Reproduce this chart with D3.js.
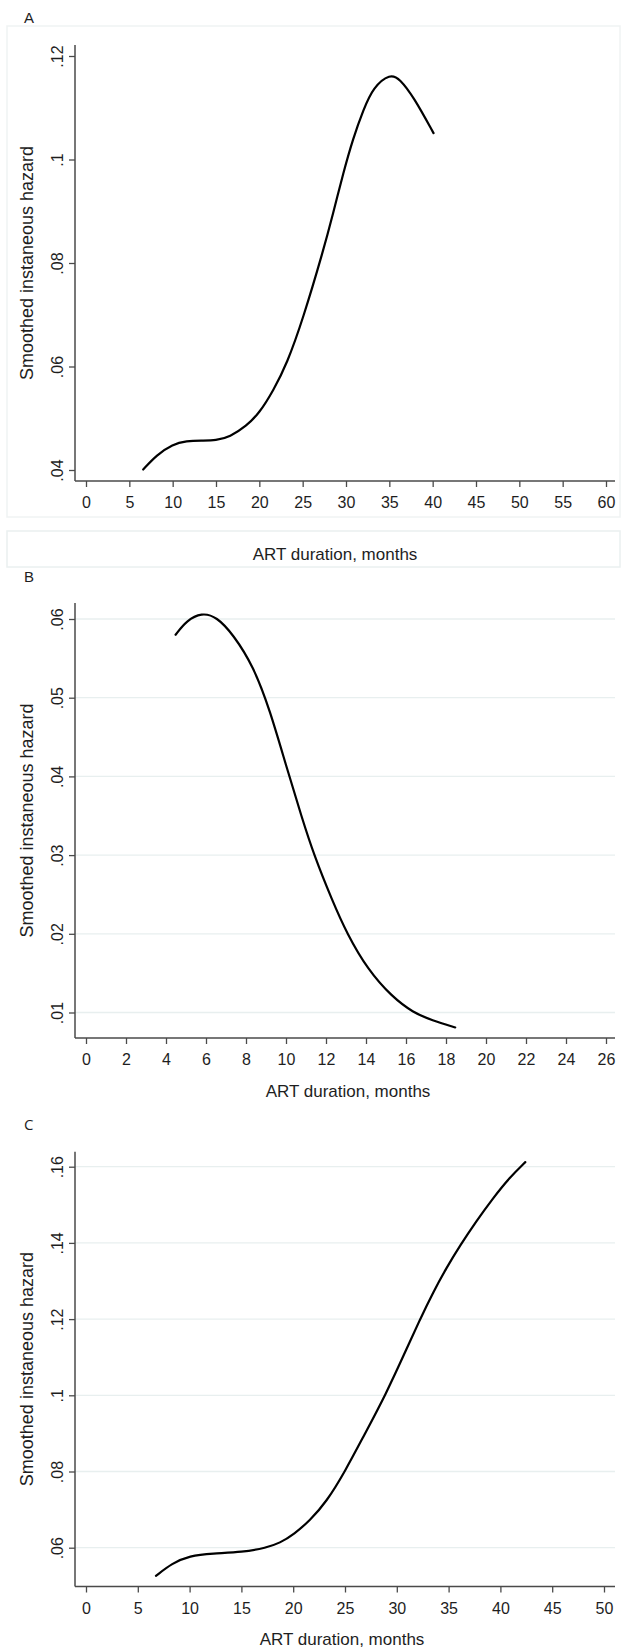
<!DOCTYPE html>
<html lang="en">

<head>
  <meta charset="utf-8" />
  <style>
    body {
      margin: 0;
      background: #fff;
    }

    #chart text {
      font-family: "Liberation Sans", Arial, sans-serif;
      fill: #1e1e1e;
    }
  </style>
</head>

<body>
  <div id="chart"></div>

  <script src="https://cdnjs.cloudflare.com/ajax/libs/d3/7.8.5/d3.min.js"></script>
  <script>
    // panel A
    const monthsA = [6.6, 8.15, 10, 11.6, 13.3, 15, 16.6, 18.5, 20, 21.6, 23.2, 25, 27.4, 28.5, 29.7, 30.8, 32, 33.15, 35.1, 36.2, 37.8, 40.1];
    const hazardA = [.0401, .0429, .0450, .0456, .0457, .0457, .0464, .0485, .0510, .0553, .0606, .0690, .0825, .0895, .0975, .1040, .1096, .1140, .1166, .1156, .1121, .1051];
    const xTicksA = d3.range(0, 61, 5);
    const yTicksA = [.04, .06, .08, .1, .12];

    // panel B
    const monthsB = [4.48, 5.03, 5.78, 6.53, 7.37, 8.37, 9.2, 10.0, 10.8, 11.4, 12.3, 13.05, 14.1, 15.3, 16.35, 17.3, 18.46];
    const hazardB = [.0580, .0598, .0608, .0603, .0580, .0540, .0484, .0414, .0347, .0300, .0243, .0200, .0154, .0120, .0100, .0090, .0081];
    const xTicksB = d3.range(0, 27, 2);
    const yTicksB = [.01, .02, .03, .04, .05, .06];

    // panel C
    const monthsC = [6.75, 8.3, 10.0, 12.2, 15.1, 17.4, 18.7, 20.1, 21.6, 23.2, 25.0, 26.8, 28.9, 31.0, 32.2, 33.5, 34.8, 36.1, 37.7, 39.3, 40.9, 42.4];
    const hazardC = [.0526, .0559, .0579, .0585, .0588, .0600, .0612, .0636, .0671, .0720, .0800, .0893, .1000, .1125, .1197, .1270, .1335, .1393, .1458, .1518, .1572, .1612];
    const xTicksC = d3.range(0, 51, 5);
    const yTicksC = [.06, .08, .1, .12, .14, .16];

    const xTitle = "ART duration, months";
    const yTitle = "Smoothed instaneous hazard";

    const width = 627;
    const height = 1650;

    const svg = d3.select("#chart")
      .append("svg")
      .attr("width", width)
      .attr("height", height);

    // faint frame that panel A carries in the original
    svg.append("rect")
      .attr("x", 7).attr("y", 26).attr("width", 613).attr("height", 491)
      .attr("fill", "none").attr("stroke", "#f0f3f3").attr("stroke-width", 1.5);
    svg.append("rect")
      .attr("x", 7).attr("y", 531).attr("width", 613).attr("height", 36)
      .attr("fill", "none").attr("stroke", "#eaf0f0").attr("stroke-width", 1.5);

    const panels = [
      {
        label: "A", labelY: 23, labelFont: "Liberation Sans",
        months: monthsA, hazard: hazardA, xTicks: xTicksA, yTicks: yTicksA,
        xDomain: [0, 60], xRange: [86, 606],
        yDomain: [.04, .12], yRange: [470, 56],
        top: 45, bottom: 481, grid: false,
        xTitleX: 335, xTitleY: 560
      },
      {
        label: "B", labelY: 582, labelFont: "Liberation Sans",
        months: monthsB, hazard: hazardB, xTicks: xTicksB, yTicks: yTicksB,
        xDomain: [0, 26], xRange: [86, 606],
        yDomain: [.01, .06], yRange: [1012.5, 619],
        top: 603, bottom: 1038, grid: true,
        xTitleX: 348, xTitleY: 1097
      },
      {
        label: "C", labelY: 1130, labelFont: "Open Sans",
        months: monthsC, hazard: hazardC, xTicks: xTicksC, yTicks: yTicksC,
        xDomain: [0, 50], xRange: [86, 604],
        yDomain: [.06, .16], yRange: [1547.7, 1166.7],
        top: 1151.7, bottom: 1586.5, grid: true,
        xTitleX: 342, xTitleY: 1645
      }
    ];

    const axisX0 = 75;
    const axisX1 = 615;
    const fmt = d => String(d).replace(/^0/, "");

    panels.forEach(p => {
      const x = d3.scaleLinear().domain(p.xDomain).range(p.xRange);
      const y = d3.scaleLinear().domain(p.yDomain).range(p.yRange);
      const g = svg.append("g");

      g.append("text")
        .attr("x", 24)
        .attr("y", p.labelY)
        .style("font-family", p.labelFont)
        .style("font-size", "15px")
        .text(p.label);

      if (p.grid) {
        g.selectAll("line.grid")
          .data(p.yTicks)
          .join("line")
          .attr("class", "grid")
          .attr("x1", axisX0)
          .attr("x2", axisX1)
          .attr("y1", d => y(d))
          .attr("y2", d => y(d))
          .attr("stroke", "#e8efef")
          .attr("stroke-width", 1.3);
      }

      // y axis
      const yAxis = g.append("g")
        .attr("transform", `translate(${axisX0},0)`)
        .call(d3.axisLeft(y).tickValues(p.yTicks).tickSize(6).tickFormat(fmt));
      yAxis.select(".domain").remove();
      yAxis.selectAll(".tick line").attr("stroke", "#4a4a4a").attr("stroke-width", 1.3);
      yAxis.selectAll(".tick text")
        .attr("transform", "rotate(-90)")
        .attr("x", 0)
        .attr("y", -12)
        .attr("dy", 0)
        .attr("text-anchor", "middle")
        .style("font-size", "16px");
      g.append("line")
        .attr("x1", axisX0).attr("x2", axisX0)
        .attr("y1", p.top).attr("y2", p.bottom)
        .attr("stroke", "#4a4a4a").attr("stroke-width", 1.5);

      // x axis
      const xAxis = g.append("g")
        .attr("transform", `translate(0,${p.bottom})`)
        .call(d3.axisBottom(x).tickValues(p.xTicks).tickSize(6));
      xAxis.select(".domain").remove();
      xAxis.selectAll(".tick line").attr("stroke", "#4a4a4a").attr("stroke-width", 1.3);
      xAxis.selectAll(".tick text")
        .attr("y", 27)
        .attr("dy", 0)
        .style("font-size", "16px");
      g.append("line")
        .attr("x1", axisX0).attr("x2", axisX1)
        .attr("y1", p.bottom).attr("y2", p.bottom)
        .attr("stroke", "#4a4a4a").attr("stroke-width", 1.5);

      // titles
      g.append("text")
        .attr("x", p.xTitleX)
        .attr("y", p.xTitleY)
        .attr("text-anchor", "middle")
        .style("font-size", "17px")
        .text(xTitle);
      g.append("text")
        .attr("transform", `translate(33,${(p.top + p.bottom) / 2}) rotate(-90)`)
        .attr("text-anchor", "middle")
        .style("font-size", "18px")
        .text(yTitle);

      // hazard curve
      const pts = p.months.map((m, i) => [m, p.hazard[i]]);
      const line = d3.line()
        .x(d => x(d[0]))
        .y(d => y(d[1]))
        .curve(d3.curveBasis);
      g.append("path")
        .datum(pts)
        .attr("d", line)
        .attr("fill", "none")
        .attr("stroke", "#000")
        .attr("stroke-width", 2.2)
        .attr("stroke-linecap", "round");
    });
  </script>
</body>

</html>
